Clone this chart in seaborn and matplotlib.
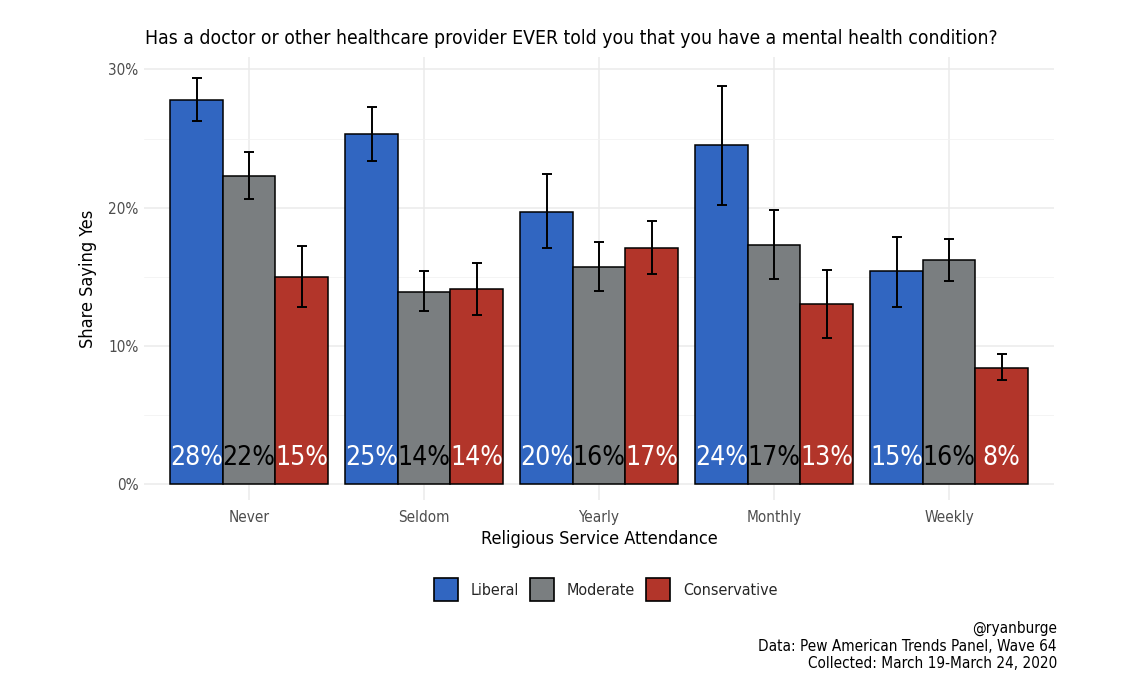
import matplotlib
matplotlib.use("Agg")
import matplotlib.pyplot as plt
import seaborn as sns
import pandas as pd
import numpy as np
from matplotlib import font_manager
from matplotlib.ticker import FuncFormatter, MultipleLocator
from matplotlib.patches import Patch

categories = ["Never", "Seldom", "Yearly", "Monthly", "Weekly"]
groups = ["Liberal", "Moderate", "Conservative"]
liberal = [0.278, 0.253, 0.197, 0.245, 0.154]
moderate = [0.223, 0.139, 0.157, 0.173, 0.162]
conservative = [0.150, 0.141, 0.171, 0.130, 0.084]
liberal_lo = [0.263, 0.234, 0.171, 0.202, 0.128]
liberal_hi = [0.294, 0.273, 0.224, 0.288, 0.179]
moderate_lo = [0.206, 0.125, 0.140, 0.148, 0.147]
moderate_hi = [0.240, 0.154, 0.175, 0.198, 0.177]
conservative_lo = [0.128, 0.122, 0.152, 0.106, 0.075]
conservative_hi = [0.172, 0.160, 0.190, 0.155, 0.094]
labels_lib = ["28%", "25%", "20%", "24%", "15%"]
labels_mod = ["22%", "14%", "16%", "17%", "16%"]
labels_con = ["15%", "14%", "17%", "13%", "8%"]

colors = {"Liberal": "#3166C1", "Moderate": "#7A7E80", "Conservative": "#B2352A"}

rows = []
for g, vals, lo, hi, lab in [("Liberal", liberal, liberal_lo, liberal_hi, labels_lib),
                             ("Moderate", moderate, moderate_lo, moderate_hi, labels_mod),
                             ("Conservative", conservative, conservative_lo, conservative_hi, labels_con)]:
    for c, v, l, h, t in zip(categories, vals, lo, hi, lab):
        rows.append(dict(att=c, ideo=g, val=v, lo=l, hi=h, lab=t))
df = pd.DataFrame(rows)

sns.set_theme(style="white")

# look for a condensed / narrow face
narrow = None
for f in font_manager.fontManager.ttflist:
    fn = f.fname.lower()
    if ("condensed" in fn or "narrow" in fn) and "bold" not in fn and "oblique" not in fn and "italic" not in fn:
        narrow = f
        break
if narrow is not None:
    plt.rcParams['font.family'] = [narrow.name, 'DejaVu Sans']
    plt.rcParams['font.stretch'] = narrow.stretch
    k = 1.0
else:
    plt.rcParams['font.family'] = ['Roboto', 'DejaVu Sans']
    k = 0.85

fig = plt.figure(figsize=(11.34, 7.0), dpi=100)
ax = fig.add_axes([0.127, 0.2857, 0.8025, 0.6329])

sns.barplot(data=df, x="att", y="val", hue="ideo", order=categories, hue_order=groups,
            palette=colors, saturation=1, edgecolor="black", linewidth=1.1, width=0.9, gap=0,
            errorbar=None, ax=ax, legend=False, zorder=3)

for cont, g in zip(ax.containers, groups):
    sub = df[df.ideo == g].set_index("att").loc[categories]
    xs = [b.get_x() + b.get_width() / 2 for b in cont]
    ys = sub["val"].values
    lo = sub["lo"].values
    hi = sub["hi"].values
    ax.errorbar(xs, ys, yerr=[ys - lo, hi - ys], fmt="none", ecolor="black",
                elinewidth=1.4, capsize=3.6, capthick=1.4, zorder=4)
    tcol = "black" if g == "Moderate" else "white"
    for x, t in zip(xs, sub["lab"].values):
        ax.text(x, 0.019, t, ha="center", va="center", fontsize=19 * k, color=tcol, zorder=5)

ax.set_xlim(-0.6, 4.6)
ax.set_ylim(-0.0116, 0.309)
ax.yaxis.set_major_locator(MultipleLocator(0.10))
ax.yaxis.set_minor_locator(MultipleLocator(0.05))
ax.yaxis.set_major_formatter(FuncFormatter(lambda v, p: f"{int(round(v*100))}%"))
ax.grid(True, which="major", axis="both", color="#EBEBEB", linewidth=1.1, zorder=0)
ax.grid(True, which="minor", axis="y", color="#F2F2F2", linewidth=0.6, zorder=0)
ax.set_axisbelow(True)
for s in ax.spines.values():
    s.set_visible(False)
ax.tick_params(axis="both", length=0, labelsize=11 * k, colors="#4D4D4D", pad=4)
ax.tick_params(axis="x", pad=7)

ax.set_xlabel("Religious Service Attendance", fontsize=13 * k, color="black", labelpad=4)
ax.set_ylabel("Share Saying Yes", fontsize=13 * k, color="black", labelpad=8)

title = "Has a doctor or other healthcare provider EVER told you that you have a mental health condition?"
t = fig.text(0.128, 0.945, title, fontsize=16, ha="left", va="center", color="black")
# shrink title to the reference width (about 855 px)
fig.canvas.draw()
w = t.get_window_extent().width
if w > 860:
    t.set_fontsize(16 * 855 / w)

handles = [Patch(facecolor=colors[g], edgecolor="black", linewidth=1.2, label=g) for g in groups]
fig.legend(handles=handles, loc="center", bbox_to_anchor=(0.534, 0.158), ncol=3, frameon=False,
           fontsize=11.5 * k, handlelength=1.5, handleheight=1.8, handletextpad=0.8, columnspacing=0.7)

fig.text(0.932, 0.077, "@ryanburge\nData: Pew American Trends Panel, Wave 64\nCollected: March 19-March 24, 2020",
         ha="right", va="center", fontsize=11 * k, color="black", linespacing=1.2)

fig.savefig("out.png", dpi=100, facecolor="white")
